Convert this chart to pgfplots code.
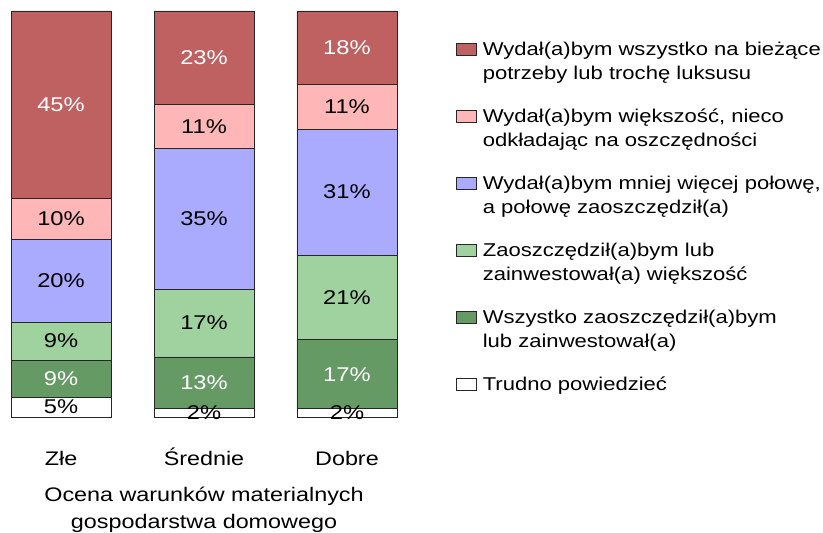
\documentclass[border=0pt]{standalone}
\usepackage{fontspec}
\setmainfont{Liberation Sans}[FakeStretch=1.19]
\usepackage{pgfplots}
\pgfplotsset{compat=1.18}
\definecolor{cA}{RGB}{192,97,97}
\definecolor{cB}{RGB}{255,182,182}
\definecolor{cC}{RGB}{170,170,255}
\definecolor{cD}{RGB}{160,210,160}
\definecolor{cE}{RGB}{101,154,101}
\pgfplotsset{
  mybar/.style={fill=#1, draw=black!85, line width=0.8bp,
    legend image code/.code={\draw[##1, line width=0.8bp] (0bp,0bp) rectangle (20.5bp,12.5bp);}},
  lab/.style={draw=none, mark=none, nodes near coords, point meta=explicit symbolic,
    every node near coord/.append style={anchor=center, inner sep=0pt, text=#1, font=\fontsize{20}{24}\selectfont}},
}
\begin{document}
\begin{tikzpicture}
\begin{axis}[
  scale only axis, width=386bp, height=406bp,
  xmin=-0.35, xmax=2.35, ymin=0, ymax=100,
  clip=false,
  ybar stacked, bar width=100bp,
  axis line style={draw=none},
  major tick length=0pt,
  ytick=\empty,
  xtick={0,1,2},
  xticklabels={Złe,Średnie,Dobre},
  xticklabel style={anchor=base, yshift=-48bp, inner sep=0pt, font=\fontsize{19.7}{23}\selectfont},
  xlabel={\begin{tabular}[t]{@{}c@{}}Ocena warunków materialnych\\gospodarstwa domowego\end{tabular}},
  xlabel style={at={(axis description cs:0.5,0)}, anchor=base, yshift=-84.8bp, inner sep=0pt, font=\fontsize{19.7}{27}\selectfont},
  reverse legend,
  legend style={at={(1.1528,0.9326)}, anchor=north west, draw=none, fill=none,
    inner sep=0pt, outer sep=0pt, row sep={67bp,between origins}, column sep=5.5bp,
    font=\fontsize{18.6}{24.5}\selectfont,
    nodes={inner sep=0pt, anchor=base west}, cells={anchor=base west}},
]
\addplot[mybar=white] coordinates {(0,4.9) (1,2.0) (2,2.0)};
\addlegendentry{Trudno powiedzieć}
\addplot[mybar=cE] coordinates {(0,9.1) (1,12.8) (2,17.0)};
\addlegendentry{\begin{tabular}[t]{@{}l@{}}Wszystko zaoszczędził(a)bym\\lub zainwestował(a)\end{tabular}}
\addplot[mybar=cD] coordinates {(0,9.4) (1,16.7) (2,20.9)};
\addlegendentry{\begin{tabular}[t]{@{}l@{}}Zaoszczędził(a)bym lub\\zainwestował(a) większość\end{tabular}}
\addplot[mybar=cC] coordinates {(0,20.4) (1,34.7) (2,31.0)};
\addlegendentry{\begin{tabular}[t]{@{}l@{}}Wydał(a)bym mniej więcej połowę,\\a połowę zaoszczędził(a)\end{tabular}}
\addplot[mybar=cB] coordinates {(0,10.1) (1,10.8) (2,11.1)};
\addlegendentry{\begin{tabular}[t]{@{}l@{}}Wydał(a)bym większość, nieco\\odkładając na oszczędności\end{tabular}}
\addplot[mybar=cA] coordinates {(0,46.1) (1,23.0) (2,18.0)};
\addlegendentry{\begin{tabular}[t]{@{}l@{}}Wydał(a)bym wszystko na bieżące\\potrzeby lub trochę luksusu\end{tabular}}
\end{axis}
\begin{axis}[
  scale only axis, width=386bp, height=406bp,
  xmin=-0.35, xmax=2.35, ymin=0, ymax=100,
  clip=false, hide axis,
]
\addplot[lab=white] coordinates {(0,76.95) [45\%] (1,88.5) [23\%] (2,91.0) [18\%] (0,9.45) [9\%] (1,8.4) [13\%] (2,10.5) [17\%]};
\addplot[lab=black] coordinates {(0,2.45) [5\%] (1,1.0) [2\%] (2,1.0) [2\%] (0,18.7) [9\%] (1,23.15) [17\%] (2,29.45) [21\%] (0,33.6) [20\%] (1,48.85) [35\%] (2,55.4) [31\%] (0,48.85) [10\%] (1,71.6) [11\%] (2,76.45) [11\%]};
\end{axis}
\pgfresetboundingbox
\path[use as bounding box] (-11bp,-116bp) rectangle (812bp,417bp);
\end{tikzpicture}
\end{document}
